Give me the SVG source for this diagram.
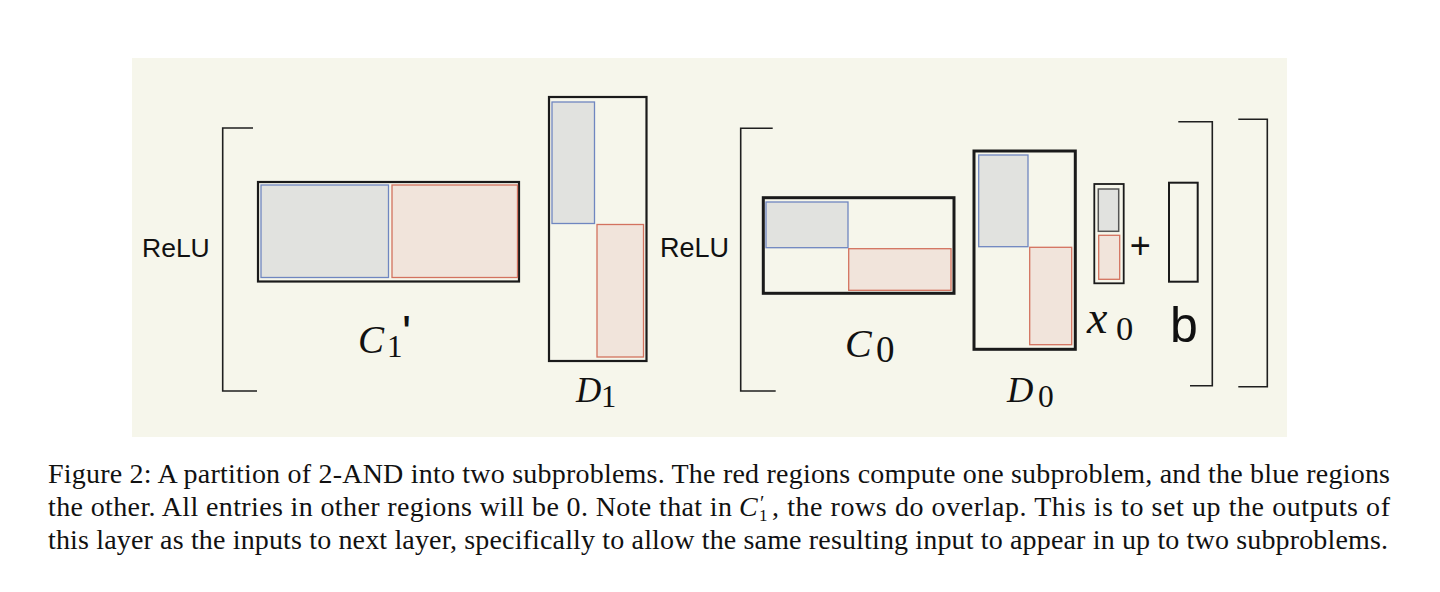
<svg xmlns="http://www.w3.org/2000/svg" width="1440" height="592" viewBox="0 0 1440 592">
<style>
.bg{fill:#f6f6eb}
.mat{fill:none;stroke:#1a1a1a}
.blue{fill:#e1e2df;stroke:#6f86c0;stroke-width:1.3}
.red{fill:#f1e4db;stroke:#d3725f;stroke-width:1.3}
.br{fill:none;stroke:#1f1f1f;stroke-width:1.6}
.sans{font-family:"Liberation Sans",Arial,sans-serif;fill:#111}
.math{font-family:"Liberation Serif","Times New Roman",serif;font-style:italic;fill:#111}
.num{font-family:"Liberation Serif","Times New Roman",serif;fill:#111}
.cap{font-family:"Liberation Serif","Times New Roman",serif;font-size:28px;fill:#111}
</style>
<rect class="bg" x="132" y="58" width="1155" height="379"/>

<g id="brackets">
  <path class="br" d="M253,128 H222.7 V391 H257"/>
  <path class="br" d="M772.7,128.3 H740.7 V391 H775.7"/>
  <path class="br" d="M1178.3,121.7 H1212.3 V385.7 H1190"/>
  <path class="br" d="M1238.3,119.3 H1267.3 V386.7 H1238.3"/>
</g>

<g id="relu1"><text class="sans" x="142" y="257" font-size="26.5">ReLU</text></g>

<g id="C1prime">
  <rect class="mat" x="258" y="182" width="261" height="99.5" stroke-width="2.2"/>
  <rect class="blue" x="261" y="185" width="127.5" height="92.5"/>
  <rect class="red" x="392" y="185" width="125.5" height="92.5"/>
  <text class="math" x="358" y="352.7" font-size="39">C</text>
  <text class="num" x="387" y="357.3" font-size="31">1</text>
  <text class="sans" x="402" y="349.4" font-size="48">'</text>
</g>

<g id="D1">
  <rect class="mat" x="549" y="97" width="97.5" height="264" stroke-width="2.2"/>
  <rect class="blue" x="552" y="102" width="42.5" height="121.5"/>
  <rect class="red" x="597" y="224.5" width="46.5" height="132.5"/>
  <text class="math" x="576" y="401.7" font-size="35">D</text>
  <text class="num" x="601" y="407.3" font-size="30.5">1</text>
</g>

<g id="relu2"><text class="sans" x="660" y="257" font-size="27">ReLU</text></g>

<g id="C0">
  <rect class="mat" x="763.3" y="197.7" width="190.7" height="95.6" stroke-width="3"/>
  <rect class="blue" x="766" y="202" width="82" height="45.7"/>
  <rect class="red" x="848.7" y="248.7" width="102.3" height="41.6"/>
  <text class="math" x="845" y="356.5" font-size="40">C</text>
  <text class="num" x="876" y="362" font-size="37">0</text>
</g>

<g id="D0">
  <rect class="mat" x="974" y="151" width="101.3" height="198.3" stroke-width="3"/>
  <rect class="blue" x="978.7" y="155" width="49.3" height="91.7"/>
  <rect class="red" x="1029.7" y="247.3" width="42" height="97.4"/>
  <text class="math" x="1007" y="401.7" font-size="36.5">D</text>
  <text class="num" x="1038" y="407.3" font-size="31.5">0</text>
</g>

<g id="x0">
  <rect class="mat" x="1094.3" y="184" width="29.4" height="99.3" stroke-width="1.8"/>
  <rect x="1098.3" y="189" width="20.4" height="42.3" fill="#e1e2df" stroke="#555" stroke-width="1.5"/>
  <rect class="red" x="1098.7" y="235.3" width="21" height="44"/>
  <text class="math" x="1087" y="332.7" font-size="46">x</text>
  <text class="num" x="1116" y="340" font-size="34.5">0</text>
</g>

<g id="plus"><text class="sans" x="1140.3" y="257.6" font-size="36" text-anchor="middle">+</text></g>

<g id="b">
  <rect class="mat" x="1169" y="182.7" width="28.7" height="99" stroke-width="2"/>
  <text class="sans" x="1170" y="342.3" font-size="50">b</text>
</g>

<g id="connectors"/>

<g id="caption">
  <text class="cap" x="48" y="483" textLength="1342" lengthAdjust="spacing">Figure 2: A partition of 2-AND into two subproblems. The red regions compute one subproblem, and the blue regions</text>
  <text class="cap" x="48" y="516" textLength="684" lengthAdjust="spacing">the other. All entries in other regions will be 0. Note that in</text>
  <text class="cap" x="739" y="516"><tspan font-style="italic">C</tspan><tspan x="760" y="510" font-size="20">′</tspan><tspan x="759" y="521" font-size="17">1</tspan></text>
  <text class="cap" x="772" y="516" textLength="618" lengthAdjust="spacing">, the rows do overlap. This is to set up the outputs of</text>
  <text class="cap" x="48" y="549" textLength="1340" lengthAdjust="spacing">this layer as the inputs to next layer, specifically to allow the same resulting input to appear in up to two subproblems.</text>
</g>
</svg>
